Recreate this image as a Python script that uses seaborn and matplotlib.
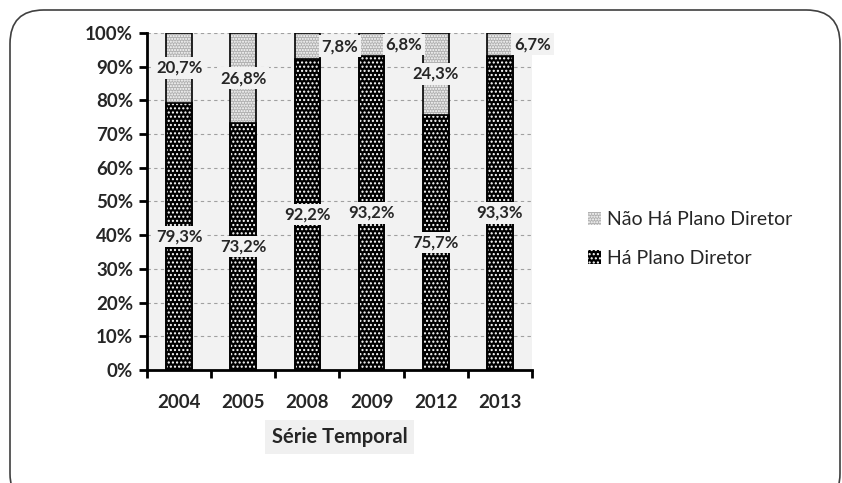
import matplotlib
matplotlib.use("Agg")
import matplotlib.pyplot as plt
import seaborn as sns
import pandas as pd
from matplotlib.patches import Rectangle, FancyBboxPatch
from matplotlib.ticker import FixedLocator, PercentFormatter

years = ["2004", "2005", "2008", "2009", "2012", "2013"]
ha_plano = [79.3, 73.2, 92.2, 93.2, 75.7, 93.3]
nao_ha_plano = [20.7, 26.8, 7.8, 6.8, 24.3, 6.7]
label_outside = [False, False, True, True, False, True]

sns.set_theme(style="white")
plt.rcParams["font.family"] = ["Lato", "DejaVu Sans"]
plt.rcParams["hatch.linewidth"] = 1.0

df = pd.DataFrame({"ano": years, "ha": ha_plano, "nao": nao_ha_plano})
df["total"] = df["ha"] + df["nao"]

fig = plt.figure(figsize=(8.42, 4.83), dpi=100)
ax = fig.add_axes([0.1746, 0.234, 0.4572, 0.6977])
ax.set_facecolor("#f2f2f2")

sns.barplot(data=df, x="ano", y="total", color="#b0b0b0", width=0.4, ax=ax,
            edgecolor="white", linewidth=0, hatch="......", saturation=1, zorder=2)
n_light = len(ax.patches)
sns.barplot(data=df, x="ano", y="ha", color="black", width=0.4, ax=ax,
            edgecolor="white", linewidth=0, hatch="....", saturation=1, zorder=3)

for p in list(ax.patches):
    ax.add_patch(Rectangle((p.get_x(), p.get_y()), p.get_width(), p.get_height(),
                           fill=False, edgecolor="black", linewidth=1.2, zorder=4))

ax.set_ylim(0, 100)
ax.set_xlim(-0.5, len(years) - 0.5)
ax.yaxis.set_major_locator(FixedLocator(range(0, 101, 10)))
ax.yaxis.set_major_formatter(PercentFormatter(decimals=0))
ax.grid(axis="y", color="#a0a0a0", linestyle=(0, (3, 3)), linewidth=0.8, zorder=1)
ax.set_axisbelow(True)

for s in ["top", "right"]:
    ax.spines[s].set_visible(False)
for s in ["left", "bottom"]:
    ax.spines[s].set_color("black")
    ax.spines[s].set_linewidth(2)

ax.set_xticks([i - 0.5 for i in range(len(years) + 1)], minor=False)
ax.set_xticklabels([])
ax.set_xticks(range(len(years)), minor=True)
ax.set_xticklabels(years, minor=True, fontsize=13.5, fontweight="bold")
ax.tick_params(axis="x", which="major", direction="out", length=6, width=2, color="black", bottom=True)
ax.tick_params(axis="x", which="minor", length=0, pad=17)
ax.tick_params(axis="y", direction="out", length=6, width=2, color="black", left=True,
               labelsize=13.5, pad=4)
for t in ax.get_yticklabels():
    t.set_fontweight("bold")

ax.set_ylabel("")
ax.set_xlabel("Série Temporal", fontsize=14.5, fontweight="bold", labelpad=12,
              bbox=dict(facecolor="#f0f0f0", edgecolor="none", pad=5))

box = dict(facecolor="#f2f2f2", edgecolor="none", pad=2)
for i, (h, n) in enumerate(zip(ha_plano, nao_ha_plano)):
    ax.text(i, h / 2, f"{h:.1f}%".replace(".", ","), ha="center", va="center",
            fontsize=12, fontweight="bold", bbox=box, zorder=6)
    if label_outside[i]:
        ax.text(i + 0.22, h + n / 2, f"{n:.1f}%".replace(".", ","), ha="left", va="center",
                fontsize=12, fontweight="bold", bbox=box, zorder=6)
    else:
        ax.text(i, h + n / 2, f"{n:.1f}%".replace(".", ","), ha="center", va="center",
                fontsize=12, fontweight="bold", bbox=box, zorder=6)

h1 = Rectangle((0, 0), 1, 1, facecolor="#b0b0b0", edgecolor="white", hatch="......", linewidth=0)
h2 = Rectangle((0, 0), 1, 1, facecolor="black", edgecolor="white", hatch="....", linewidth=0)
fig.legend([h1, h2], ["Não Há Plano Diretor", "Há Plano Diretor"],
           loc="center left", bbox_to_anchor=(0.677, 0.505), frameon=False,
           fontsize=14, handlelength=0.7, handleheight=0.7, handletextpad=0.3,
           labelspacing=1.1)

frame = FancyBboxPatch((10 / 842, -0.05), 830 / 842, 1 - 10 / 483 + 0.05,
                       boxstyle="round,pad=0,rounding_size=0.04",
                       transform=fig.transFigure, facecolor="none", edgecolor="#404040",
                       linewidth=1.2, clip_on=False, mutation_aspect=842 / 483)
fig.patches.append(frame)

fig.savefig("out.png", dpi=100)
